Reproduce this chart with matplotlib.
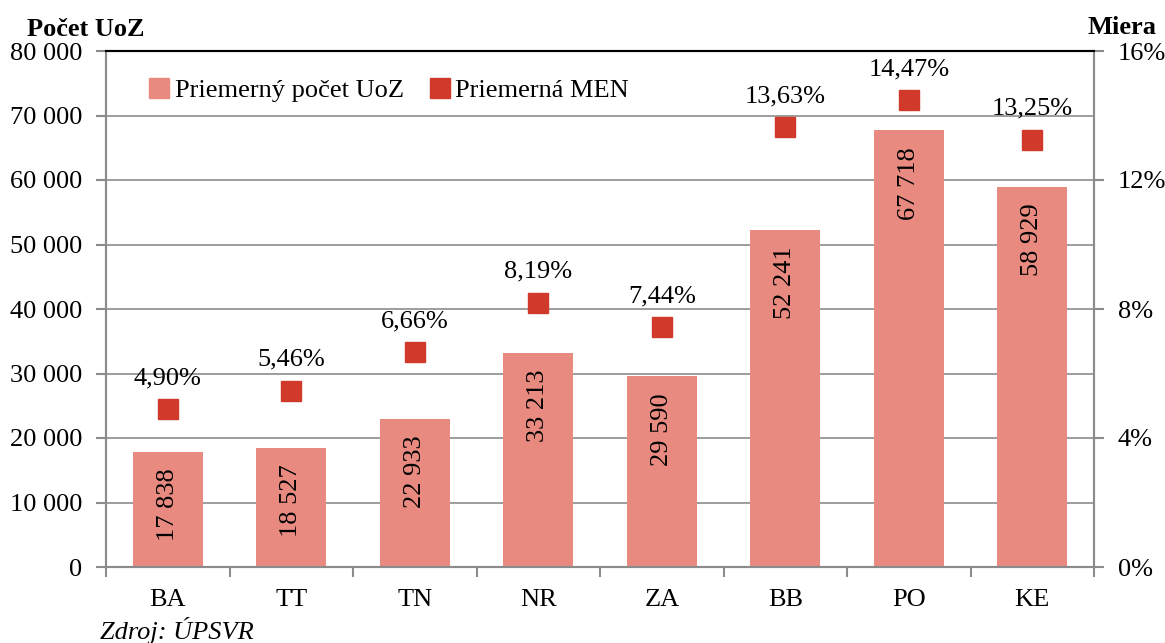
import matplotlib
import matplotlib.pyplot as plt
import numpy as np
from matplotlib.patches import Patch

matplotlib.use("Agg")

plt.rcParams['font.family'] = ['Liberation Serif', 'DejaVu Serif']

regions = ["BA", "TT", "TN", "NR", "ZA", "BB", "PO", "KE"]
uoz_counts = [17838, 18527, 22933, 33213, 29590, 52241, 67718, 58929]
men_rates = [4.90, 5.46, 6.66, 8.19, 7.44, 13.63, 14.47, 13.25]

bar_color = "#E88A80"
marker_color = "#D13A2B"
grid_color = "#8C8C8C"
fs = 19


def fmt_thousands(v):
    return "{:,}".format(int(v)).replace(",", " ")


fig = plt.figure(figsize=(11.65, 6.43), dpi=100)
ax = fig.add_axes([106 / 1165, 1 - 567 / 643, (1094 - 106) / 1165, (567 - 51) / 643])
ax2 = ax.twinx()

x = np.arange(len(regions))
bars = ax.bar(x, uoz_counts, width=0.57, color=bar_color, zorder=2)
ax.set_xlim(-0.5, len(regions) - 0.5)
ax.set_ylim(0, 80000)
ax.set_yticks(np.arange(0, 80001, 10000))
ax.set_yticklabels([fmt_thousands(v) for v in np.arange(0, 80001, 10000)], fontsize=fs)
ax.yaxis.grid(True, color=grid_color, linewidth=1.2, zorder=0)
ax.set_axisbelow(True)
ax.set_xticks(x)
ax.set_xticklabels(regions, fontsize=fs)
ax.set_xticks(np.arange(-0.5, len(regions)), minor=True)
ax.tick_params(axis="x", which="major", length=0, pad=16)
ax.tick_params(axis="x", which="minor", length=7, color=grid_color, width=1.5)
ax.tick_params(axis="y", length=7, color=grid_color, width=1.5, pad=10)

# labels of bars sit inside the top end, rotated
for b, v in zip(bars, uoz_counts):
    ax.text(b.get_x() + b.get_width() / 2, v - 2600, fmt_thousands(v),
            rotation=90, ha="center", va="top", fontsize=fs)

ax2.plot(x, men_rates, linestyle="none", marker="s", markersize=14,
         color=marker_color, zorder=3)
for xi, r in zip(x, men_rates):
    ax2.text(xi, r + 0.62, "{:.2f}%".format(r).replace(".", ","),
             ha="center", va="bottom", fontsize=fs)
ax2.set_ylim(0, 16)
ax2.set_yticks([0, 4, 8, 12, 16])
ax2.set_yticklabels(["0%", "4%", "8%", "12%", "16%"], fontsize=fs)
ax2.tick_params(axis="y", length=7, color=grid_color, width=1.5, pad=10)

for a in (ax, ax2):
    for s in ("left", "right", "bottom"):
        a.spines[s].set_color(grid_color)
        a.spines[s].set_linewidth(1.5)
    a.spines["top"].set_color("black")
    a.spines["top"].set_linewidth(1.5)

handles = [Patch(color=bar_color), Patch(color=marker_color)]
ax.legend(handles, ["Priemerný počet UoZ", "Priemerná MEN"], loc="center left",
          bbox_to_anchor=(0.044, 0.924), ncol=2, frameon=False, fontsize=fs,
          borderpad=0, borderaxespad=0,
          handlelength=0.75, handleheight=0.75, handletextpad=0.2, columnspacing=1.0)

fig.text(27 / 1165, 1 - 30 / 643, "Počet UoZ", fontsize=fs, fontweight="bold", va="center")
fig.text(1157 / 1165, 1 - 27 / 643, "Miera", fontsize=fs, fontweight="bold", va="center", ha="right")
fig.text(100 / 1165, 1 - 630 / 643, "Zdroj: ÚPSVR", fontsize=fs, style="italic", va="center")

fig.savefig("out.png", dpi=100)
